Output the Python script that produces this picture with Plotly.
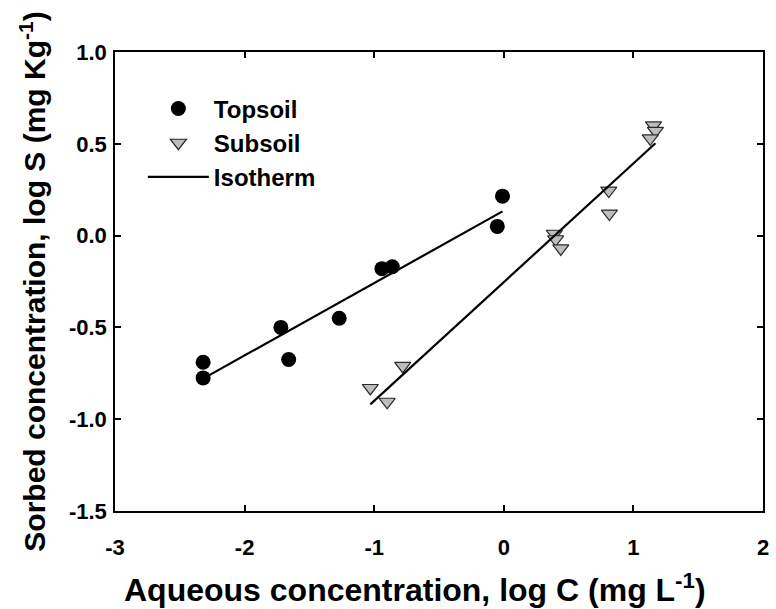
import numpy as np
import plotly.graph_objects as go

# Topsoil sorption data (log C, log S)
top_logc = [-2.32, -2.32, -1.72, -1.66, -1.27, -0.94, -0.86, -0.05, -0.01]
top_logs = [-0.69, -0.775, -0.50, -0.675, -0.45, -0.18, -0.17, 0.05, 0.215]

# Subsoil sorption data (log C, log S)
sub_logc = [-1.03, -0.78, -0.90, 0.39, 0.40, 0.44, 0.81, 0.815, 1.155, 1.17, 1.13]
sub_logs = [-0.83, -0.71, -0.905, 0.01, -0.02, -0.07, 0.245, 0.12, 0.60, 0.57, 0.53]

x_ticks = [-3, -2, -1, 0, 1, 2]
y_ticks = [-1.5, -1.0, -0.5, 0.0, 0.5, 1.0]

FONT = "Liberation Sans, Arial, sans-serif"


def isotherm(xs, ys):
    """Linear (log-log Freundlich) fit over the measured range."""
    slope, intercept = np.polyfit(xs, ys, 1)
    xr = np.array([min(xs), max(xs)])
    return xr, slope * xr + intercept


fig = go.Figure()

tx, ty = isotherm(top_logc, top_logs)
sx, sy = isotherm(sub_logc, sub_logs)

fig.add_trace(go.Scatter(
    x=top_logc, y=top_logs, mode="markers", name="<b>Topsoil</b>",
    marker=dict(symbol="circle", size=15, color="black",
                line=dict(color="black", width=0)),
))
fig.add_trace(go.Scatter(
    x=sub_logc, y=sub_logs, mode="markers", name="<b>Subsoil</b>",
    marker=dict(symbol="triangle-down", size=14, color="#bdbdbd",
                line=dict(color="#2a2a2a", width=1.2)),
))
fig.add_trace(go.Scatter(
    x=tx, y=ty, mode="lines", name="<b>Isotherm</b>",
    line=dict(color="black", width=2.2),
))
fig.add_trace(go.Scatter(
    x=sx, y=sy, mode="lines", name="Isotherm", showlegend=False,
    line=dict(color="black", width=2.2),
))

axis_common = dict(
    showgrid=False, zeroline=False, showline=True, mirror="ticks",
    linecolor="black", linewidth=1.5,
    ticks="inside", ticklen=6, tickwidth=1.5, tickcolor="black",
    tickfont=dict(family=FONT, size=22, color="black"),
)

fig.update_xaxes(
    range=[-3, 2], tickvals=x_ticks,
    ticktext=[f"<b>{v}</b>" for v in x_ticks],
    ticklabelstandoff=16,
    **axis_common,
)
fig.update_yaxes(
    range=[-1.5, 1.0], tickvals=y_ticks,
    ticktext=[f"<b>{v:.1f}</b>" for v in y_ticks],
    ticklabelstandoff=2,
    title=dict(text="<b>Sorbed concentration, log S (mg Kg<sup>-1</sup>)</b>",
               font=dict(family=FONT, size=30, color="black"), standoff=14),
    **axis_common,
)

# x-axis title, set slightly left of the plot centre
fig.add_annotation(
    text="<b>Aqueous concentration, log C (mg L<sup>-1</sup>)</b>",
    xref="paper", yref="paper", x=0.4633, y=-0.168,
    xanchor="center", yanchor="middle", showarrow=False,
    font=dict(family=FONT, size=32, color="black"),
)

fig.update_layout(
    width=776, height=609,
    margin=dict(l=115, r=7, t=52, b=98),
    paper_bgcolor="white", plot_bgcolor="white",
    showlegend=True,
    legend=dict(
        x=0.043, y=0.925, xanchor="left", yanchor="top",
        bgcolor="rgba(0,0,0,0)", borderwidth=0,
        font=dict(family=FONT, size=24, color="black"),
        itemwidth=61, tracegroupgap=0,
    ),
)

fig.write_html("out.html")
